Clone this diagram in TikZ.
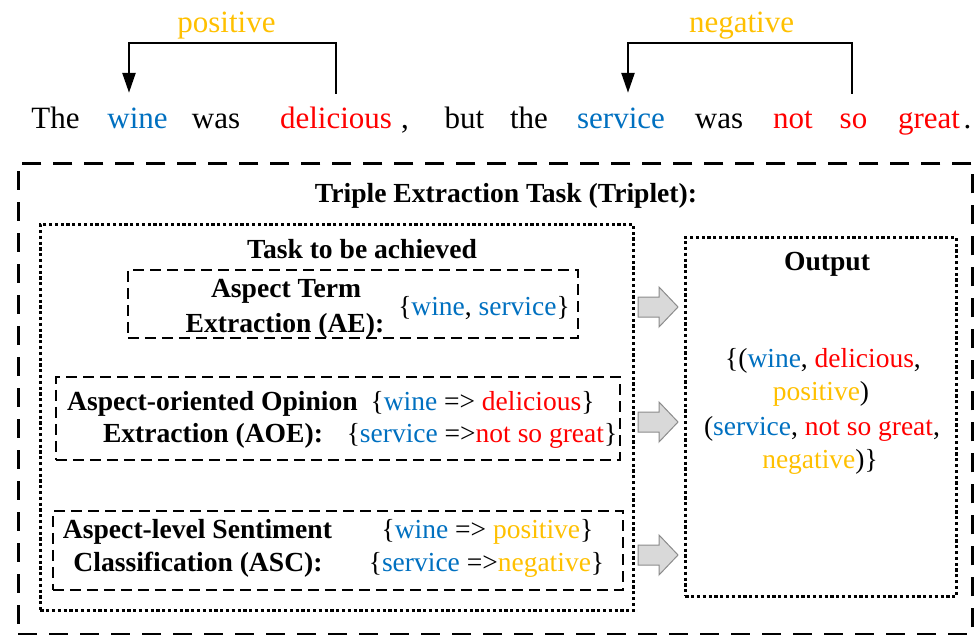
\documentclass[tikz,border=0pt]{standalone}
\usepackage{fontspec}
\setmainfont{Liberation Serif}
\usetikzlibrary{arrows.meta,calc}
\definecolor{aspblue}{HTML}{0070C0}
\definecolor{opred}{HTML}{FF0000}
\definecolor{polgold}{HTML}{FFC000}
\definecolor{arrowfill}{HTML}{D9D9D9}
\definecolor{arrowline}{HTML}{8C8C8C}
\newcommand{\asp}[1]{\textcolor{aspblue}{#1}}
\newcommand{\opn}[1]{\textcolor{opred}{#1}}
\newcommand{\pol}[1]{\textcolor{polgold}{#1}}
\begin{document}
\begin{tikzpicture}[x=1pt,y=-1pt,
  word/.style={inner sep=0pt, anchor=base, font=\fontsize{31}{36}\selectfont,
    text height=21pt, text depth=7pt},
  head/.style={inner sep=0pt, anchor=base, font=\fontsize{27.6}{33}\selectfont\bfseries},
  body/.style={inner sep=0pt, anchor=base, font=\fontsize{27.5}{33}\selectfont},
  frame/.style={inner sep=0pt, anchor=north west},
  outerframe/.style={frame, draw, line width=2.5pt, dash pattern=on 19pt off 12pt},
  dotframe/.style={frame, draw, line width=2.6pt, dash pattern=on 3.2pt off 2.6pt},
  taskframe/.style={frame, draw, line width=1.9pt, dash pattern=on 11pt off 6pt},
  bracket/.style={line width=2.5pt, -{Triangle[length=20pt,width=13pt]}},
  garrow/.style={fill=arrowfill, draw=arrowline, line width=1pt, line join=miter}]
\useasboundingbox (0,0) rectangle (976,634);

% example sentence
\node[word] (w1) at (55.5,128) {The};
\node[word] (wine) at (137.5,128) {\asp{wine}};
\node[word] (w3) at (216,128) {was};
\node[word] (delicious) at (336,128) {\opn{delicious}};
\node[word] (w5) at (405,128) {,};
\node[word] (w6) at (464.5,128) {but};
\node[word] (w7) at (529,128) {the};
\node[word] (service) at (621,128) {\asp{service}};
\node[word] (w9) at (719,128) {was};
\node[word] (not) at (793,128) {\opn{not}};
\node[word] (so) at (853.5,128) {\opn{so}};
\node[word] (great) at (929,128) {\opn{great}};
\node[word] (w13) at (967.5,128) {.};

% polarity links from opinion to aspect
\node[word] (pos) at (226.5,33) {\pol{positive}};
\node[word] (neg) at (741.5,33) {\pol{negative}};
\draw[bracket] ([yshift=13pt]delicious.north) -- ++(0,-51) -| ([xshift=-8.5pt,yshift=14pt]wine.north);
\draw[bracket] ([xshift=-1.5pt,yshift=13pt]so.north) -- ++(0,-51) -| ([xshift=7pt,yshift=14pt]service.north);

% frames
\node[outerframe, minimum width=954pt, minimum height=471pt] (outer) at (17,162) {};
\node[dotframe, minimum width=593pt, minimum height=386pt] (task) at (39,223) {};
\node[taskframe, minimum width=450pt, minimum height=68pt] (ae) at (127,269) {};
\node[taskframe, minimum width=564pt, minimum height=83pt] (aoe) at (55,376) {};
\node[taskframe, minimum width=570pt, minimum height=79pt] (asc) at (52,510) {};
\node[dotframe, minimum width=271pt, minimum height=359pt] (out) at (684,236) {};

% headings
\node[head] (title) at (506,202) {Triple Extraction Task (Triplet):};
\node[head] (tasktitle) at (362,258) {Task to be achieved};
\node[head] (outtitle) at (827,270) {Output};

% aspect term extraction
\node[head] (ae1) at (286,297) {Aspect Term};
\node[head] (ae2) at (285,332) {Extraction (AE):};
\node[body] (aeres) at (484,315) {\{\asp{wine}, \asp{service}\}};

% aspect-oriented opinion extraction
\node[head] (aoe1) at (212.5,410) {Aspect-oriented Opinion};
\node[head] (aoe2) at (213,442) {Extraction (AOE):};
\node[body] (aoeres1) at (482.5,410) {\{\asp{wine} => \opn{delicious}\}};
\node[body] (aoeres2) at (482,442) {\{\asp{service} =>\opn{not so great}\}};

% aspect-level sentiment classification
\node[head] (asc1) at (197.5,538) {Aspect-level Sentiment};
\node[head] (asc2) at (198,571) {Classification (ASC):};
\node[body] (ascres1) at (487.5,538) {\{\asp{wine} => \pol{positive}\}};
\node[body] (ascres2) at (486.5,571) {\{\asp{service} =>\pol{negative}\}};

% output triplets
\node[body] (o1) at (823,367) {\{(\asp{wine}, \opn{delicious},};
\node[body] (o2) at (821,400) {\pol{positive})};
\node[body] (o3) at (822,435) {(\asp{service}, \opn{not so great},};
\node[body] (o4) at (820,468) {\pol{negative})\}};

% block arrows from each subtask to the output
\foreach \yy in {307,422,555}
  \draw[garrow] (638,\yy-10) -- (659,\yy-10) -- (659,\yy-20) -- (678,\yy)
    -- (659,\yy+20) -- (659,\yy+10) -- (638,\yy+10) -- cycle;
\end{tikzpicture}
\end{document}
